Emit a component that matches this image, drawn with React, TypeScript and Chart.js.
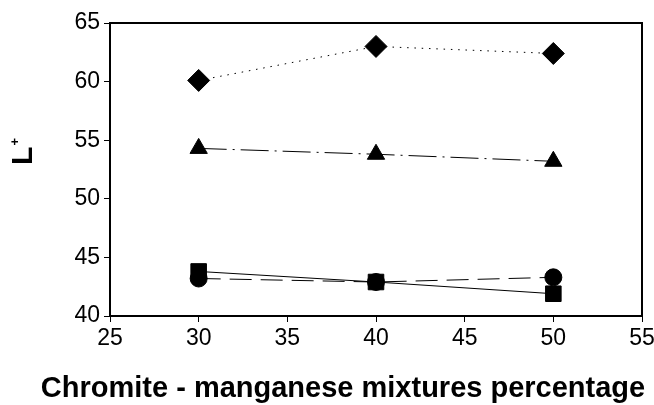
import React, { useEffect, useRef } from "react";
import { Chart, registerables } from "chart.js";

Chart.register(...registerables);

const mixturePercent = [30, 40, 50];
const diamondSeries = [60.1, 63.0, 62.4];
const triangleSeries = [54.3, 53.8, 53.2];
const squareSeries = [43.8, 42.9, 41.9];
const circleSeries = [43.2, 42.9, 43.3];

const xTitle = "Chromite - manganese mixtures percentage";
const yTitleMain = "L";
const yTitleSup = "+";

const FONT = '"Liberation Sans", Arial, sans-serif';

const toPoints = (ys: number[]) => mixturePercent.map((x, i) => ({ x, y: ys[i] }));

const framePlugin = {
  id: "frameAndTitles",
  afterDraw(chart: any) {
    const { ctx, chartArea } = chart;
    ctx.save();
    ctx.strokeStyle = "#000";
    ctx.lineWidth = 2;
    ctx.strokeRect(chartArea.left, chartArea.top, chartArea.right - chartArea.left, chartArea.bottom - chartArea.top);

    ctx.fillStyle = "#000";
    ctx.font = `bold 29px ${FONT}`;
    ctx.textAlign = "center";
    ctx.textBaseline = "alphabetic";
    ctx.fillText(xTitle, 343, 397);

    ctx.translate(32, 165);
    ctx.rotate(-Math.PI / 2);
    ctx.textAlign = "left";
    ctx.font = `bold 30px ${FONT}`;
    ctx.fillText(yTitleMain, 0, 0);
    ctx.font = `bold 13px ${FONT}`;
    ctx.textBaseline = "middle";
    ctx.fillText(yTitleSup, 19.5, -16.5);
    ctx.restore();
  },
};

export default function App() {
  const ref = useRef<HTMLCanvasElement | null>(null);

  useEffect(() => {
    if (!ref.current) return;
    const common = {
      borderColor: "#000",
      backgroundColor: "#000",
      pointBackgroundColor: "#000",
      pointBorderColor: "#000",
      borderWidth: 1,
      pointBorderWidth: 1,
      showLine: true,
      fill: false,
    };
    const chart = new Chart(ref.current, {
      type: "scatter",
      data: {
        datasets: [
          { ...common, label: "diamond", data: toPoints(diamondSeries), pointStyle: "rectRot", pointRadius: 11, borderDash: [1.5, 5.8] },
          { ...common, label: "triangle", data: toPoints(triangleSeries), pointStyle: "triangle", pointRadius: 10, borderDash: [28, 6, 2, 6] },
          { ...common, label: "square", data: toPoints(squareSeries), pointStyle: "rect", pointRadius: 11 },
          { ...common, label: "circle", data: toPoints(circleSeries), pointStyle: "circle", pointRadius: 8.5, borderDash: [22, 9] },
        ],
      },
      options: {
        animation: false,
        responsive: false,
        devicePixelRatio: 1,
        layout: { padding: { top: 23, right: 0, left: 0, bottom: 0 } },
        plugins: { legend: { display: false }, tooltip: { enabled: false } },
        scales: {
          x: {
            type: "linear",
            min: 25,
            max: 55,
            ticks: { stepSize: 5, color: "#000", font: { family: FONT, size: 23 }, padding: 3, maxRotation: 0 },
            grid: { drawOnChartArea: false, drawTicks: true, tickLength: 6, color: "#000", lineWidth: 1 },
            border: { display: false },
            afterFit: (s: any) => {
              s.height = 89;
              s.paddingRight = 11;
              s.paddingLeft = 0;
            },
          },
          y: {
            min: 40,
            max: 65,
            ticks: { stepSize: 5, color: "#000", font: { family: FONT, size: 23 }, padding: 4 },
            grid: { drawOnChartArea: false, drawTicks: true, tickLength: 6, color: "#000", lineWidth: 1 },
            border: { display: false },
            afterFit: (s: any) => {
              s.width = 110;
              s.paddingTop = 0;
              s.paddingBottom = 0;
            },
          },
        },
      },
      plugins: [framePlugin],
    } as any);
    return () => chart.destroy();
  }, []);

  return (
    <div style={{ position: "absolute", left: 0, top: 0, width: 654, height: 405, background: "#fff" }}>
      <canvas ref={ref} width={654} height={405} style={{ width: 654, height: 405, display: "block" }} />
    </div>
  );
}
